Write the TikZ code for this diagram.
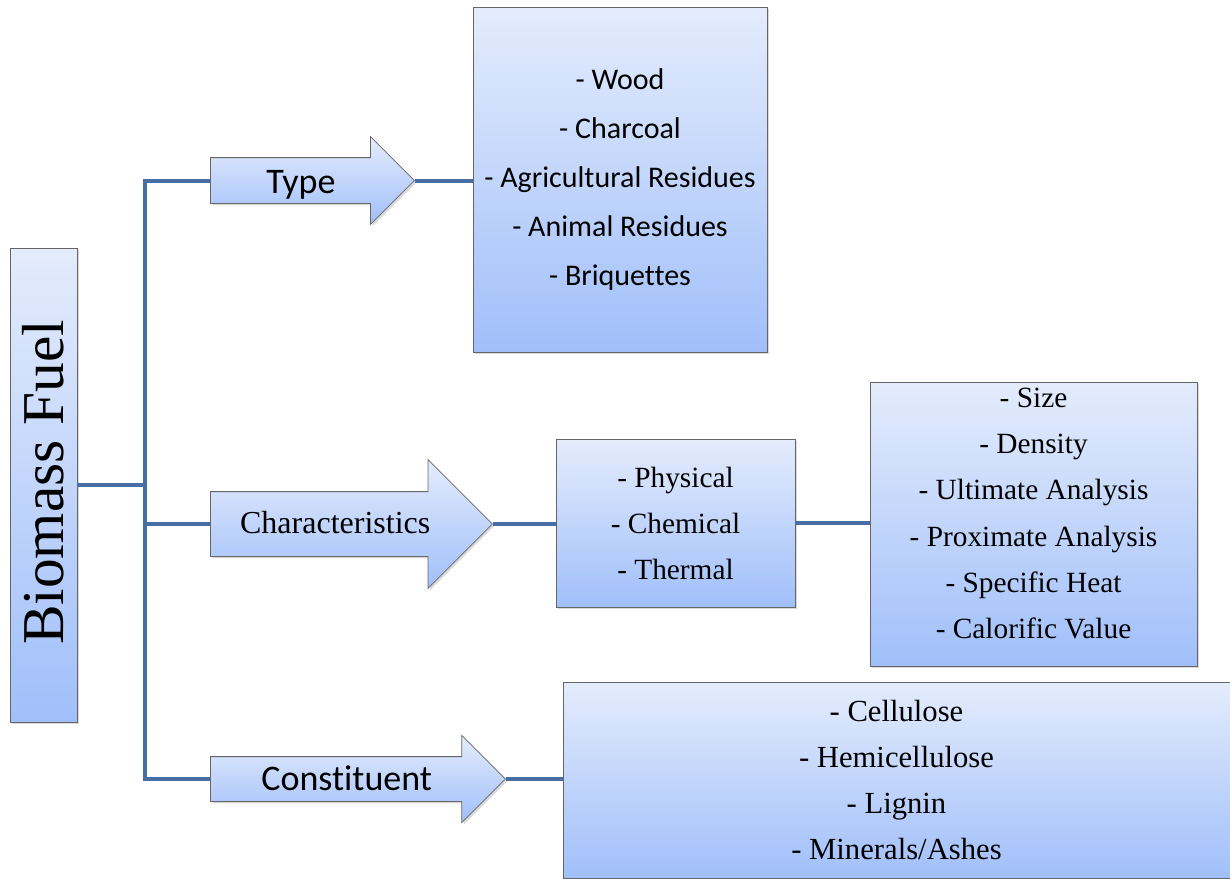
\documentclass[tikz,border=0pt]{standalone}
\usepackage{fontspec}
\setmainfont{Liberation Serif}
\newfontfamily\calibri[Ligatures=NoCommon]{Carlito}
\usetikzlibrary{shapes.arrows, shadows}
\definecolor{boxtop}{RGB}{228,236,252}
\definecolor{boxbot}{RGB}{160,191,250}
\definecolor{linkblue}{RGB}{72,110,165}
\tikzset{
    box/.style={draw=gray!80!black, line width=0.6pt, top color=boxtop,
        bottom color=boxbot, inner sep=0pt, align=center,
        drop shadow={shadow xshift=1.5pt, shadow yshift=-1.5pt, opacity=0.3}},
    bigarrow/.style={single arrow, draw=gray!80!black, line width=0.6pt,
        top color=boxtop, bottom color=boxbot, single arrow tip angle=90,
        inner sep=0pt, anchor=tail,
        drop shadow={shadow xshift=1.5pt, shadow yshift=-1.5pt, opacity=0.3}},
    link/.style={draw=linkblue, line width=3pt}
}
\begin{document}
\begin{tikzpicture}[x=0.75pt, y=-0.75pt]
    % page
    \useasboundingbox (0,0) rectangle (1230,878);
    % main box
    \node (bio) [box, minimum width=50.25pt, minimum height=355.5pt] at (43.5,485) {};
    \node (biotxt) [rotate=90, font=\fontsize{44.5}{50}\selectfont] at (43.5,482.5) {Biomass Fuel};
    % arrows
    \node (type) [bigarrow, minimum height=153pt, single arrow head extend=15.75pt,
        text height=26.25pt, text depth=7.5pt, font=\calibri\fontsize{27}{30}\selectfont]
        at (210,180.5) {Type};
    \node (chars) [bigarrow, minimum height=211.5pt, single arrow head extend=24pt,
        text height=31.1pt, text depth=16.9pt, font=\fontsize{24}{28}\selectfont]
        at (210,524) {Characteristics};
    \node (cons) [bigarrow, minimum height=221.25pt, single arrow head extend=16pt,
        text height=25.1pt, text depth=7.9pt, font=\calibri\fontsize{27}{30}\selectfont]
        at (210,779) {Constituent};
    % boxes
    \node (typebox) [box, minimum width=220.5pt, minimum height=258.75pt,
        font=\calibri\fontsize{22.5}{36.75}\selectfont] at (620,179.5)
        {- Wood\\- Charcoal\\- Agricultural Residues\\- Animal Residues\\- Briquettes};
    \node (physbox) [box, minimum width=179.25pt, minimum height=126pt,
        font=\fontsize{22}{34.5}\selectfont] at (675.5,523)
        {- Physical\\- Chemical\\- Thermal};
    \node (sizebox) [box, minimum width=245.25pt, minimum height=213pt] at (1033.5,524) {};
    \node (sizetxt) [align=center, font=\fontsize{22}{34.65}\selectfont] at (1033.5,513.5)
        {- Size\\- Density\\- Ultimate Analysis\\- Proximate Analysis\\- Specific Heat\\- Calorific Value};
    \node (consbox) [box, minimum width=500.25pt, minimum height=147pt,
        font=\fontsize{23}{34.5}\selectfont] at (896.5,780)
        {- Cellulose\\- Hemicellulose\\- Lignin\\- Minerals/Ashes};
    % lines
    \draw [link] (bio.east) -- ++(68,0);
    \draw [link] (type.tail) -- ++(-65,0) |- (cons.tail);
    \draw [link] (chars.tail) -- ++(-65,0);
    \draw [link] (type.tip) -- (typebox.west |- type.tip);
    \draw [link] (chars.tip) -- (physbox.west |- chars.tip);
    \draw [link] (physbox.east) -- (sizebox.west |- physbox.east);
    \draw [link] (cons.tip) -- (consbox.west |- cons.tip);
\end{tikzpicture}
\end{document}
